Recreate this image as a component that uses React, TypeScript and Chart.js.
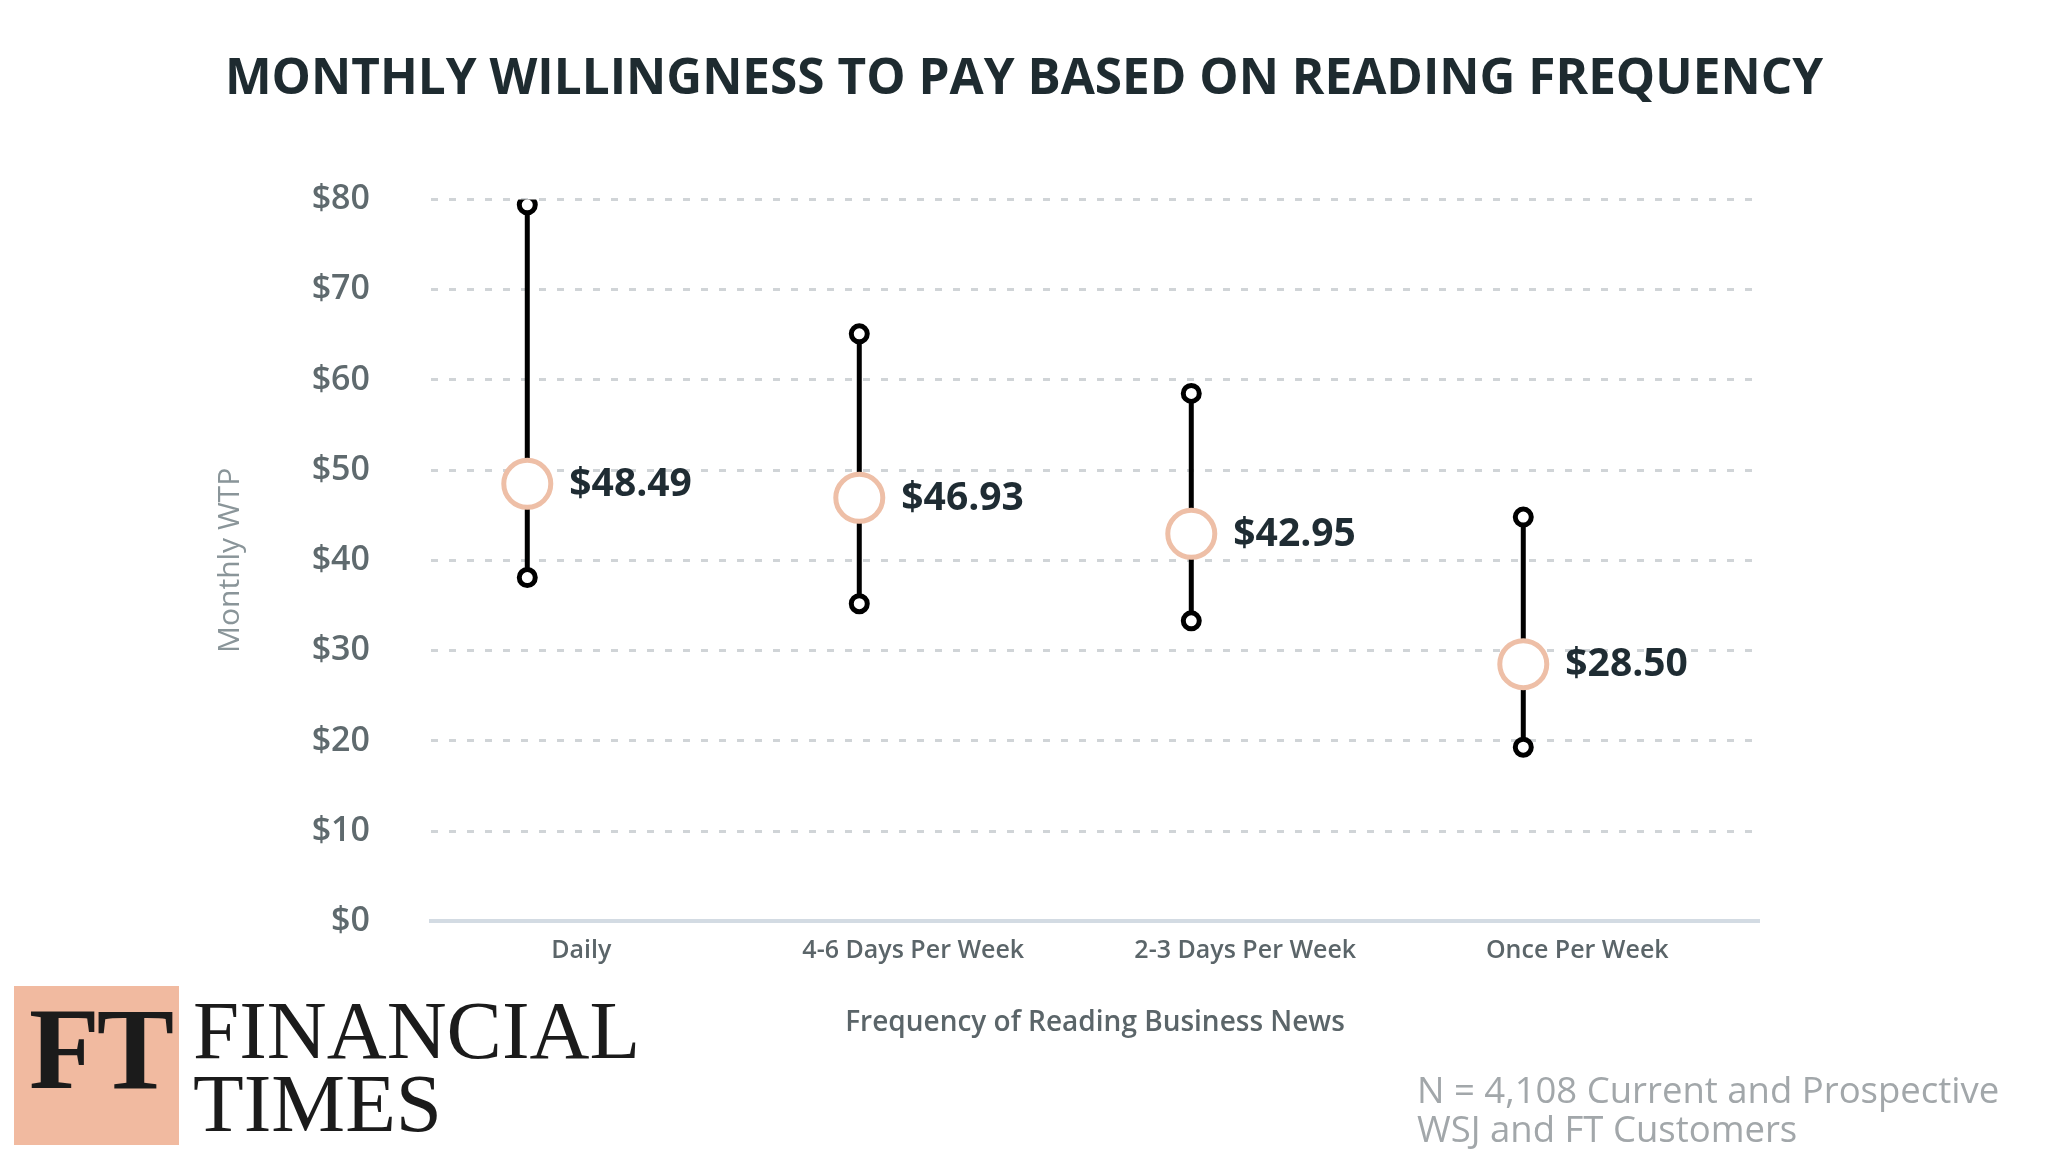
import React, { useEffect, useRef } from "react";
import { Chart, registerables } from "chart.js";

Chart.register(...registerables);

const categories = ["Daily", "4-6 Days Per Week", "2-3 Days Per Week", "Once Per Week"];
const meanValues = [48.49, 46.93, 42.95, 28.5];
const lowValues = [38.1, 35.2, 33.3, 19.3];
const highValues = [79.4, 65.1, 58.5, 44.8];
const yMin = 0;
const yMax = 80;
const yStep = 10;

const titleText = "MONTHLY WILLINGNESS TO PAY BASED ON READING FREQUENCY";
const yAxisTitle = "Monthly WTP";
const xAxisTitle = "Frequency of Reading Business News";
const footnoteLines = ["N = 4,108 Current and Prospective", "WSJ and FT Customers"];

export default function App() {
  const ref = useRef<HTMLCanvasElement>(null);

  useEffect(() => {
    document.body.style.margin = "0";
    const rangeData: any[] = [];
    categories.forEach((_, i) => {
      rangeData.push({ x: i, y: lowValues[i] }, { x: i, y: highValues[i] }, { x: i, y: null });
    });

    const meanLabels = {
      id: "meanLabels",
      afterDatasetsDraw(chart: any) {
        const meta = chart.getDatasetMeta(0);
        const ctx = chart.ctx;
        ctx.save();
        ctx.font = "bold 39px 'Open Sans'";
        ctx.fillStyle = "#1f2c33";
        ctx.textBaseline = "middle";
        ctx.textAlign = "left";
        meta.data.forEach((el: any, i: number) => {
          ctx.fillText("$" + meanValues[i].toFixed(2), el.x + 42, el.y + 1);
        });
        ctx.restore();
      },
    };

    const chart = new Chart(ref.current as HTMLCanvasElement, {
      type: "scatter",
      data: {
        datasets: [
          {
            label: "Mean",
            data: meanValues.map((v, i) => ({ x: i, y: v })),
            pointRadius: 23.5,
            pointHoverRadius: 23.5,
            pointBorderWidth: 5,
            pointBorderColor: "#eebfa7",
            pointBackgroundColor: "#ffffff",
            showLine: false,
            order: 0,
          },
          {
            label: "Range",
            data: rangeData,
            showLine: true,
            spanGaps: false,
            borderColor: "#000000",
            borderWidth: 5,
            pointRadius: 8,
            pointHoverRadius: 8,
            pointBorderWidth: 5,
            pointBorderColor: "#000000",
            pointBackgroundColor: "#ffffff",
            order: 1,
          },
        ] as any,
      },
      options: {
        responsive: false,
        animation: false,
        layout: { padding: 0 },
        plugins: {
          legend: { display: false },
          tooltip: { enabled: false },
          title: {
            display: true,
            text: titleText,
            color: "#1e2b30",
            font: { family: "'Open Sans'", size: 49.5, weight: "bold", lineHeight: 1.2 },
            padding: { top: 50, bottom: 90 },
          },
        },
        scales: {
          x: {
            type: "linear",
            min: -0.29,
            max: 3.71,
            grid: { display: false, drawTicks: false },
            border: { display: true, color: "#d3dbe3", width: 4 },
            afterBuildTicks: (s: any) => {
              s.ticks = categories.map((_, i) => ({ value: i }));
            },
            ticks: {
              autoSkip: false,
              maxRotation: 0,
              padding: 14,
              labelOffset: 54,
              color: "#5b6569",
              font: { family: "'Open Sans'", size: 25, weight: "600" },
              callback: (v: any) => categories[v] ?? "",
            },
            title: {
              display: true,
              text: xAxisTitle,
              color: "#5b6569",
              font: { family: "'Open Sans'", size: 28, weight: "600", lineHeight: 1.2 },
              padding: { top: 27, bottom: 118 },
            },
          },
          y: {
            position: "left",
            min: yMin,
            max: yMax,
            afterFit: (s: any) => {
              s.width = 431;
            },
            grid: {
              drawTicks: false,
              lineWidth: 3,
              color: (c: any) => (c.tick && c.tick.value === 0 ? "rgba(0,0,0,0)" : "#d0d4d7"),
            },
            border: { display: false, dash: [7, 11] },
            ticks: {
              stepSize: yStep,
              padding: 61,
              color: "#5f6a6e",
              font: { family: "'Open Sans'", size: 34, weight: "600" },
              callback: (v: any) => "$" + v,
            },
            title: {
              display: true,
              text: yAxisTitle,
              color: "#8a9599",
              font: { family: "'Open Sans'", size: 30, weight: "normal", lineHeight: 1.2 },
              padding: { top: 212, bottom: 4 },
            },
          },
          y2: {
            position: "right",
            min: yMin,
            max: yMax,
            display: true,
            afterFit: (s: any) => {
              s.width = 289;
            },
            grid: { display: false, drawTicks: false },
            border: { display: false },
            ticks: { display: false },
          },
        },
      } as any,
      plugins: [meanLabels],
    });
    return () => chart.destroy();
  }, []);

  return (
    <div style={{ position: "relative", width: 2048, height: 1158, background: "#ffffff", overflow: "hidden" }}>
      <canvas ref={ref} width={2048} height={1158} style={{ display: "block" }} />
      <div style={{ position: "absolute", left: 14, top: 986, width: 165, height: 159, background: "#f1baa0" }} />
      <div
        style={{
          position: "absolute",
          left: 29,
          top: 991,
          fontFamily: "'Liberation Serif', serif",
          fontWeight: "bold",
          fontSize: 116,
          lineHeight: 1,
          letterSpacing: -3,
          color: "#1b1b1b",
          whiteSpace: "pre",
        }}
      >
        FT
      </div>
      <div
        style={{
          position: "absolute",
          left: 193,
          top: 994,
          fontFamily: "'Liberation Serif', serif",
          fontSize: 83,
          lineHeight: "73px",
          color: "#1b1b1b",
          whiteSpace: "pre",
        }}
      >
        {"FINANCIAL\nTIMES"}
      </div>
      <div
        style={{
          position: "absolute",
          left: 1417,
          top: 1070,
          fontFamily: "'Open Sans', sans-serif",
          fontSize: 36.5,
          lineHeight: "39px",
          color: "#a2a7aa",
          whiteSpace: "pre",
        }}
      >
        {footnoteLines.join("\n")}
      </div>
    </div>
  );
}
